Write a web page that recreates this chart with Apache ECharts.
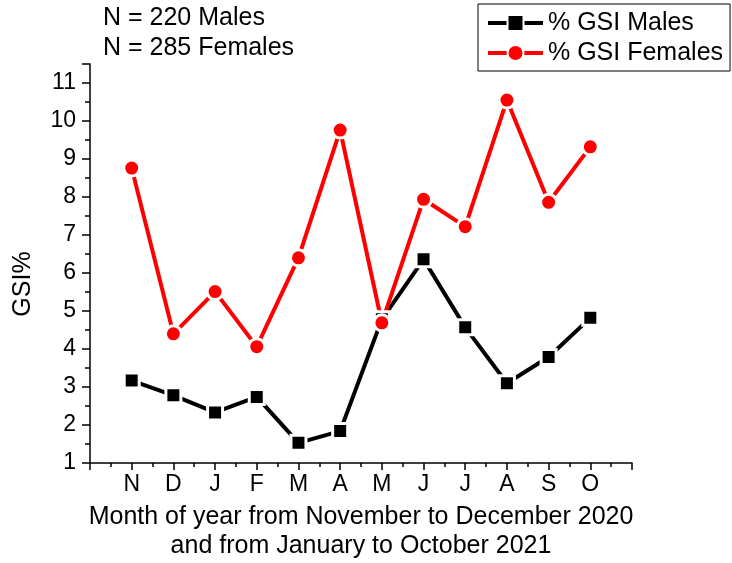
<!DOCTYPE html>
<html>
<head>
<meta charset="utf-8">
<title>GSI by month</title>
<script src="https://cdn.jsdelivr.net/npm/echarts@6/dist/echarts.min.js"></script>
<style>
  html, body { margin: 0; padding: 0; background: #fff; }
  #chart { width: 732px; height: 563px; }
</style>
</head>
<body>
<div id="chart"></div>
<script>
// Month initials, November 2020 through October 2021
const months = ['N', 'D', 'J', 'F', 'M', 'A', 'M', 'J', 'J', 'A', 'S', 'O'];

// Gonadosomatic index (%) per month
const gsiMales   = [3.17, 2.78, 2.33, 2.74, 1.53, 1.84, 4.78, 6.36, 4.57, 3.10, 3.79, 4.82];
const gsiFemales = [8.76, 4.40, 5.51, 4.06, 6.40, 9.76, 4.69, 7.94, 7.22, 10.55, 7.86, 9.32];

const seriesNames = ['% GSI Males', '% GSI Females'];
const sampleNotes = ['N = 220 Males', 'N = 285 Females'];
const xTitle = 'Month of year from November to December 2020\nand from January to October 2021';
const yTitle = 'GSI%';

const FONT = 'Liberation Sans, Arial, sans-serif';

// months sit at positions 1..12 on a 0..13 value axis
const toPoints = vals => vals.map((v, i) => [i + 1, v]);

const chart = echarts.init(document.getElementById('chart'), null, { renderer: 'canvas' });

chart.setOption({
  backgroundColor: '#ffffff',
  animation: false,
  textStyle: { fontFamily: FONT, color: '#000' },
  grid: { left: 90, top: 64, width: 542, height: 399, containLabel: false, outerBoundsMode: 'none' },
  xAxis: {
    type: 'value',
    min: 0,
    max: 13,
    interval: 1,
    name: xTitle,
    nameLocation: 'middle',
    nameGap: 40,
    nameTextStyle: { fontSize: 25, fontFamily: FONT, color: '#000', lineHeight: 29 },
    axisLine: { show: true, lineStyle: { color: '#000', width: 1.5 } },
    axisTick: { show: true, inside: false, length: 7, lineStyle: { color: '#000', width: 1.5 } },
    minorTick: { show: true, splitNumber: 2, length: 4, lineStyle: { color: '#000', width: 1.5 } },
    splitLine: { show: false },
    axisLabel: {
      margin: 10,
      fontSize: 23,
      fontFamily: FONT,
      color: '#000',
      formatter: v => (v >= 1 && v <= months.length) ? months[v - 1] : ''
    }
  },
  yAxis: {
    type: 'value',
    min: 1,
    max: 11.5,
    interval: 1,
    axisLine: { show: true, lineStyle: { color: '#000', width: 1.5 } },
    axisTick: { show: true, inside: false, length: 8, lineStyle: { color: '#000', width: 1.5 } },
    minorTick: { show: true, splitNumber: 2, length: 5, lineStyle: { color: '#000', width: 1.5 } },
    splitLine: { show: false },
    axisLabel: {
      margin: 14,
      fontSize: 23,
      fontFamily: FONT,
      color: '#000',
      formatter: v => (Number.isInteger(v) ? String(v) : '')
    }
  },
  legend: {
    orient: 'vertical',
    left: 478,
    top: 4,
    padding: [6, 7, 5, 8],
    itemWidth: 55,
    itemHeight: 20,
    itemGap: 4,
    borderColor: '#000',
    borderWidth: 1,
    textStyle: { fontSize: 25, fontFamily: FONT, color: '#000', lineHeight: 26 },
    lineStyle: { width: 4 },
    data: seriesNames
  },
  graphic: [
    {
      type: 'text', left: 103, top: 6,
      style: { text: sampleNotes[0], font: '25px ' + FONT, fill: '#000' }
    },
    {
      type: 'text', left: 103, top: 36,
      style: { text: sampleNotes[1], font: '25px ' + FONT, fill: '#000' }
    },
    {
      // y axis title, rotated and centred on its own spot
      type: 'text', x: 23, y: 284, rotation: Math.PI / 2,
      style: { text: yTitle, font: '25px ' + FONT, fill: '#000', align: 'center', verticalAlign: 'middle' }
    }
  ],
  series: [
    {
      name: seriesNames[0],
      type: 'line',
      data: toPoints(gsiMales),
      symbol: 'rect',
      symbolSize: 15,
      lineStyle: { color: '#000', width: 4 },
      itemStyle: { color: '#000', borderColor: '#fff', borderWidth: 3 },
      emphasis: { disabled: true }
    },
    {
      name: seriesNames[1],
      type: 'line',
      data: toPoints(gsiFemales),
      symbol: 'circle',
      symbolSize: 16,
      lineStyle: { color: '#ff0000', width: 4 },
      itemStyle: { color: '#ff0000', borderColor: '#fff', borderWidth: 3 },
      emphasis: { disabled: true }
    }
  ]
});
</script>
</body>
</html>
